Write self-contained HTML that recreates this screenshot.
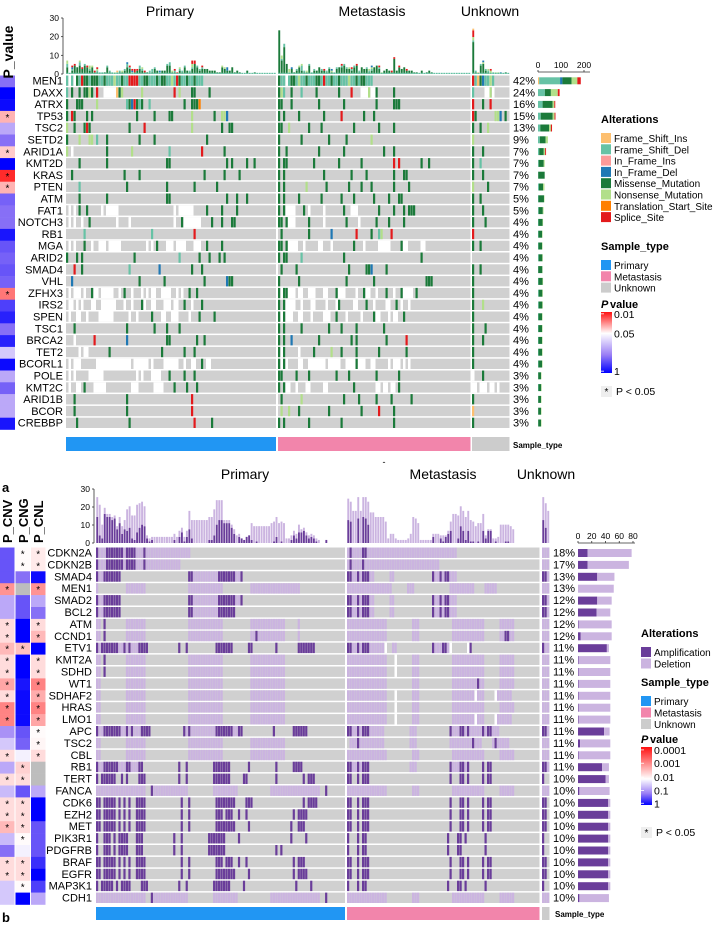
<!DOCTYPE html>
<html><head><meta charset="utf-8"><title>Oncoplots</title>
<style>
html,body{margin:0;padding:0;background:#fff;}
svg{display:block;font-family:"Liberation Sans",Arial,sans-serif;}
</style></head>
<body>
<svg id="fig" width="713" height="927" viewBox="0 0 713 927" xmlns="http://www.w3.org/2000/svg">
<defs>
<linearGradient id="gTop" x1="0" y1="0" x2="0" y2="1">
<stop offset="0" stop-color="#ff1010"/><stop offset="0.35" stop-color="#ffffff"/><stop offset="0.7" stop-color="#9b7ff5"/><stop offset="1" stop-color="#0000ff"/></linearGradient>
<linearGradient id="gBot" x1="0" y1="0" x2="0" y2="1">
<stop offset="0" stop-color="#ff1010"/><stop offset="0.55" stop-color="#ffffff"/><stop offset="0.8" stop-color="#9b7ff5"/><stop offset="1" stop-color="#0000ff"/></linearGradient>
</defs>
<g id="top"></g>
<g id="bot"></g>
<g id="static">
<text x="170" y="16" font-size="14" text-anchor="middle">Primary</text>
<text x="372" y="16" font-size="14" text-anchor="middle">Metastasis</text>
<text x="490" y="16" font-size="14" text-anchor="middle">Unknown</text>
<text transform="translate(13,52) rotate(-90)" font-size="14" font-weight="bold" text-anchor="middle">P_value</text>
<text x="384" y="465" font-size="9" text-anchor="middle">-</text>
<text x="2" y="492" font-size="13" font-weight="bold">a</text>
<text x="2" y="922" font-size="13" font-weight="bold">b</text>
<text x="245" y="479" font-size="14" text-anchor="middle">Primary</text>
<text x="443" y="479" font-size="14" text-anchor="middle">Metastasis</text>
<text x="546" y="479" font-size="14" text-anchor="middle">Unknown</text>
<text transform="translate(12,543) rotate(-90)" font-size="13" font-weight="bold">P_CNV</text>
<text transform="translate(28,543) rotate(-90)" font-size="13" font-weight="bold">P_CNG</text>
<text transform="translate(43,543) rotate(-90)" font-size="13" font-weight="bold">P_CNL</text>
</g>
</svg>
<script>
const NS="http://www.w3.org/2000/svg";
/* ---------- panel a data ---------- */
const topGenes=["MEN1","DAXX","ATRX","TP53","TSC2","SETD2","ARID1A","KMT2D","KRAS","PTEN","ATM","FAT1","NOTCH3","RB1","MGA","ARID2","SMAD4","VHL","ZFHX3","IRS2","SPEN","TSC1","BRCA2","TET2","BCORL1","POLE","KMT2C","ARID1B","BCOR","CREBBP"];
const topPct=["42%","24%","16%","15%","13%","9%","7%","7%","7%","7%","5%","5%","4%","4%","4%","4%","4%","4%","4%","4%","4%","4%","4%","4%","4%","3%","3%","3%","3%","3%"];
const topPval=[0.3,1,0.9,0.03,0.15,0.3,0.035,1,0.012,0.03,0.35,0.3,0.3,0.8,0.4,0.35,0.4,0.35,0.02,0.5,0.7,0.3,0.7,0.1,0.9,0.15,0.35,0.15,0.15,0.8];
const topRowsPrimary=[
"D1_1D1_1M1D1S1M2D1M3D2M1D3N1D2M1D2S4D2M2D3M1D1M2D2N1D1S1M1D2M1D2M1D3",
"D1.1M1.2M1.1M2N1M1.1S1.2_5I1M1N1.7N1.12S1.1N1.4M2.5M1",
"M1.3M3.5N1.11D1M1d1S1M1D1M1.2D1.13M1.2M3T1",
"M1.1S1M1.4M1.1M1.17M1.6M1.5M2.7N1.8M1.2N2d1",
"N1.2M1.3M1S1M1.15M1.5S1.18N1.11M1.2M2",
"M1.4N1.3N2.1D1.3M1.12M1.5M1.20M1",
"N1.1_1.13M1.9N1.14D1.12S1.8M1",
".5M1.10M1.23M2.22M1.1M1.5M1.2M1",
".2M1.20M1.5M1.25M1.7M1.5M1",
".5D1.18M1.15M1.10M1.8M1",
".5M1.10M1.23M2.22M1.3M1.3M1",
"._1.1_1.1M1.2M1.5_1.1_5.22_1.1_1_5.5M1.5M1.5M1",
"._1.1_1.2_1.2M1.10_1.4_1.17_1.2M1_1_6.4M1.3M1.3M2",
".7D1.26D1.16S1",
"._1.1_1.3M1.2_1.2_3.1_5.10_1.1_1.1M1.3_3.1_4.3_3.2M1.5M1",
"M1.3M1.1M1.20M1.17D1.7M1.3M1.3M1.1M1",
".3S1.2M1.18D1.11d1.12M1.3M1",
".2d1.26M1.9M1.15M1.8d1M2",
"._1.1_1_2.1_1.2M1_2.1_1_4.2_1.1M1.2_1.3_1.1_1.1_2.2_3_1.2_1.1_1.2M1.2M1",
"._2.1_1.1_1.3_2.2_1_5.3_1.2_1.3M1_1.2_2.3_3.1_2.2M1.2_1.3M1.2",
"._1.2_2.2_1.4_6.6_1.2_1.5M1.3_2.2_3.4_1.3M1.5M1",
".3M1.20M1.10M1.4M1.4M1",
".3_1.7S1.12d1.15M1M1.10M1.2M1",
".5_1.1_2.8M1.20M1.8M1.3M1",
"._1.1_1_2.6_14.1_6.1_1.4_1_5.2_1.2_2.2M1.1_1_1.2",
"._1.1_1.5_6.13_1.1_1.3_4.3M1.5M1.3M1",
"._1.2_2.1M1.3_5.10_3.6_4.4M1.4M1.3M1",
".3M1.20M1.25S1.15",
".3M1.20M1.25S1",
".4M1.20M1.25S1.6M1"];
const topRowsMet=[
"M1D2_1D1M2D1N1D2M1D3M2D1S1D2M1D2M1D3N1D2M1D1M2D3",
"M1N1D1.2M1.3D1.5M1.8M1.4S1.3_3N1_2M1.6M1",
"M2.3M1.10M1.9M1.12M1.6M3",
"M1.1M1.5M1.9M1.6S1.8M1.3M1.4",
"M2.2N1.7M1.4M1.12M1.9M1.5M1",
"M1.8M1.10M1.6M1.9N1",
"M1.2M1.12M1.9M1.15M1.3M1",
"M1.1M2.10M1.9M1.8M1.12S1.1S1.8M1.2M1",
"M1.1M1.15M1.10M1.5M1.10M1.3M2",
"M1.1M1.8N1.7M1.8M1.4M1.3M1.8M1.5M1",
"M1.1M1.5M1.8M1.7M1.4M1.7M1.5M1.3M2",
"M1.1M1_4.3M1.1_1.5_1.7M1.2_3.8M1.5M1.3M1.1M3",
"M2.1M1_3.5M1.5_1.8M1.4_1.6M1.4M1.5M1",
".1M1.10M1.8d1.9S1.5M1.2D1N1.3S1",
"M2.1M1_4.2_1.5_2.3_1.8M1.3_1.5_3_2.4M1_2.5_2",
"M1.1M2.5D1.16M1.30M1",
".1M1.5M1.20M1.6M2d1.5M1",
"M1.7M1.18M1.10M1.20M1M2",
"M1_1M2_3.1_2.2_3.3_2.3M1_2_1.4_1.2M1_2.2_1.3M1.2_1.2M1_1_1_1_1.1M1",
"M1.1M1_4.2_1.3_2.4_1.3_1M1.5_2.3M1.2_1.4_1_1.2M1.1_1.2_1",
"M1_1M1_3.2_2.3_1.4_3.2M1.3_1.5_1.4M1_2.3_1.1_1_1.2M1",
"M1.1M1.6M1.10M1.4M1.5M1.10M1",
"M1.1M1.2d1.10M1.12M1.1M1.11M1.7S1",
"M1_1M1.5_1.5M1.6N1.3M1.5M1.8M1.10M1",
"M1_1M1_1.4_2.2_4_3.1_5.2_4M1_3.2_2.5_1.1_1_1_1.1_1.1_1",
"M1M1.5M1.4M1.10M1.4M1.10M1.8M1",
"M1.1M1_2.2_1.3_2.5_2.10M1.8_1_1.1_1_1.1_1_1.1M1",
".1M1.7N1.16M1.5M1.6M1.5M1.7M1",
".1N1.2N1.3M1.11M1.12M1.6S1.5M1",
"M1.1M1.9M1.12M1.20M1"];
const topRowsUnk=["S1D1I1M1d1D2N1D1","D1.4_2N1_1.1","S1.3M1.2S1","S1M1.7N2d1.1M1","M1.2M1.2N1","N1","M1.3M1","M1.2D1","M1.3M1","N1.5M1","M1.2M1","M1.3M1","M1.4M1","S1.2",
"M1.2M1",".4","M1.2M1","M1.3","M1.5","M1.3N1","M1.4","M1.4M1","M1.3M1","M1.5","M1.5","_1.3M1","_2._3.1_2.1_1","M1.3","I1.2","M1.2"];
const cntIns=[5,0,0,0,0,0,0,0,0,0,0,0,0,0,0,0,0,0,0,0,0,0,0,0,0,0,0,0,0,0];
const cntDel=[91,30,20,12,10,8,5,3,1,4,2,3,2,2,2,3,1,2,3,3,2,2,2,2,2,1,2,1,1,1];
const cntInDel=[10,0,0,0,0,0,0,0,0,0,0,0,0,0,0,0,0,0,0,0,0,0,0,0,0,0,0,0,0,0];
const cntMis=[40,26,43,52,38,25,20,22,28,18,24,18,18,16,16,16,18,18,16,16,16,16,16,16,16,12,12,12,12,12];
const cntNon=[25,30,8,8,8,10,6,4,0,6,2,3,2,2,2,2,1,2,2,2,2,2,2,2,2,2,2,2,2,2];
const cntSplice=[15,8,4,4,5,0,4,0,0,0,0,0,0,0,0,0,0,0,0,0,0,0,0,0,0,0,0,0,0,0];
const topAxisTicks=[0,10,20,30];
const sideAxisTicks=[0,100,200];
/* ---------- panel b data ---------- */
const botGenes=["CDKN2A","CDKN2B","SMAD4","MEN1","SMAD2","BCL2","ATM","CCND1","ETV1","KMT2A","SDHD","WT1","SDHAF2","HRAS","LMO1","APC","TSC2","CBL","RB1","TERT","FANCA","CDK6","EZH2","MET","PIK3R1","PDGFRB","BRAF","EGFR","MAP3K1","CDH1"];
const botPct=["18%","17%","13%","13%","12%","12%","12%","12%","11%","11%","11%","11%","11%","11%","11%","11%","11%","11%","11%","10%","10%","10%","10%","10%","10%","10%","10%","10%","10%","10%"];
const pCNV=[0.4,0.4,0.4,0.003,0.15,0.15,0.02,0.02,0.008,0.02,0.02,0.005,0.02,0.002,0.002,0.2,0.1,0.02,0.15,0.02,0.12,0.02,0.02,0.008,0.12,0.3,0.02,0.02,0.1,0.1];
const pCNG=[0.045,0.045,0.3,null,0.4,0.4,1,1,0.01,1,1,0.8,0.9,0.9,0.9,0.4,0.35,0.06,0.015,0.02,0.4,0.02,0.02,0.02,0.045,0.06,0.02,0.02,0.045,1];
const pCNL=[0.03,0.03,0.9,0.003,0.15,0.3,0.02,0.008,1,0.02,0.02,0.002,0.006,0.002,0.005,0.045,0.04,0.02,null,null,0.15,1,1,0.4,0.4,0.4,0.6,1,0.5,0.15];
const botRowsPrimary=[
"A1L3A7L1A4L3A1L18","A1L3A7L1A4L3A1L14","A1L2A7.27A2L10A7L2A1.41","L1.11L8.17L14.11L20","A1L2A7.27A2L10A7L2A1","A1L2A7.27A2L10A7",
"L2.1A1.8L8.17L14.11L14.5L1","L2.1A1.8L8.17L14.11L2A1L11.5L1","A1L1A7L2A1L1A1L3A4.12A1.2A1.11A7.6A2.9A1.8A7",
"L2.1A1.8L8.17L14.11L14","L2.1A1.8L8.17L14.11L14","L2.10L8.17L14.11L14","L2.10L8.17L14.11L14","L2.10L8.17L14.11L14","L2.10L8.17L14.11L14",
"A1L2A7L2A1L1A1L3A4.13A1L1A1L10A7L2A2.12A1.7A6","L2.10L8.17L14.11L14","L2.10L8.17L14.11L14",
"A1L2A6L3A2L3A2.14A1.2A1.10A7.7A1.10A1.6A4","A1.1A6.2A1.1A1.4A3.13A1.2A1.10A7.5A2.11A1.10A1.1A3","L20.2A1L14.10L10.13L20.2A1",
"A2.1A5.1A1.1A1.1A1.2A4.14A1.2A1.10A8.4A3.20A1.1A4","A2.1A5.1A1.1A1.1A1.2A4.14A1.2A1.10A3.1A3.2A1.2A1.18A1.1A4",
"A2.1A5.1A1.1A1.1A1.2A4.14A1.2A1.10A8.5A1.16A1.2A3","A1.2A3.1A1.1A4.3A3.12A1.2A1.10A7.5A1.20A1.5A1",
"A1.2A3.1A1.1A4.3A3.12A1.2A1.10A7.20A1.1A1","A2.1A5.1A1.1A1.1A1.2A4.14A1.2A1.10A3.1A3.2A1.2A1.18A1.1A3",
"A2.1A5.1A1.1A1.1A1.2A4.14A1.2A1.10A8.5A1.17A1.1A4","A1.1A5.1A1.1A4.4A3.12A1.2A1.10A7.5A1.20A1.5A1","L20.2A1L14.10L10.13L20.2A1"];
const botRowsMet=[
"L1A1L4A2L36","L1A1L4A1L30","A2L2A1L1A3L2.6L2.15A1L2A1L1A2L3","L18.6L3.14L10.4L5","A2L2A1L1A3L2.6L2.15A1L2A1L1A2L3","A2L2A1L1A3L2.6L2.15A1L2A1L1A2L3",
"L16.10L3.13L13.6L6","L16.10L3.13L13.6L2A2L2","A2L2A1L1A3L6_1.2L2.14A1L3A2L1_1.6_1A1",
"L16.3_1.6L3.13L13.6L6","L16.3_1.6L3.13L13.6L6","L16.10L3.13L10A1L2.6L6","L16.3_1.6L3.13L9_1L3.4_1L6","L16.3_1.6L3.13L13.6L6","L16.3_1.6L3.13L9_1L3.4_1L6",
"A2L2A1L1A3L6.10L3.13A1L3A2L1A1L5A1L1A2L3",".1L3A1L10.10L3.13L9A1L3.4L1A1L5","L16.10L3.13L13.6L6",
"A2L2A1L1A3.16L3.13A1L3A2L1A1.5A1.1A2","A2.2A1.1A3.32A1.3A2.1A1.5A1.1A2","L16.10L3.13L13.6L6",
"A2.2A1.1A3.32A1.3A2.1A1.5A1.1A2","A2.2A1.1A3.32A1.3A2.1A1.5A1.1A2","A2.2A1.1A3.32A1.3A2.1A1.5A1.1A2",
"A1.3A1.1A2.32A1.3A2.1A1.7A1","A1.3A1.1A2.32A1.3A2.9A1","A2.2A1.1A3.32A1.3A2.1A1.5A1.1A2",
"A2.2A1.1A3.32A1.3A2.1A1.5A1.1A2","A1.3A1.1A2.32A1.3A2.1A1.7A1","L16.10L3.13L13.6L6"];
const botRowsUnk=["L3","L3","A2L1","L3","A2L1","A2L1","L3","L3","A1L2","L3","L3","L3","L3","L3","L3","A2L1","L3","L3","A2L1","A1.2","L3","A2.1","A2.1","A2.1","A1.2","A1.2","A2.1","A2.1","A1.2","L3"];
const ampCount=[14,14,28,0,28,27,1,4,42,1,1,1,1,1,1,38,3,1,35,40,2,44,44,44,44,44,44,44,44,2];
const delCount=[64,60,25,52,21,20,48,45,3,46,46,46,46,46,46,8,44,46,10,5,44,3,3,3,3,3,3,3,3,43];
const botAxisTicks=[0,10,20,30];
const botSideTicks=[0,20,40,60,80];

/* ---------- helpers ---------- */
const MUTCOL={D:"#66c2a5",M:"#1b7a3a",N:"#b2df8a",S:"#e31a1c",I:"#fdbf6f",i:"#fb9a99",d:"#1f78b4",T:"#ff7f00",A:"#6a3d9a",L:"#cbb4e0"};
const GRAY="#d0d0d0";
function mk(tag,attrs,parent){const e=document.createElementNS(NS,tag);for(const k in attrs)e.setAttribute(k,attrs[k]);parent.appendChild(e);return e;}
function parseRow(str,n){const out=[];str.replace(/([A-Za-z._])(\d*)/g,(m,c,k)=>{k=k===''?1:+k;for(let i=0;i<k;i++)out.push(c);return m;});while(out.length<n)out.push('.');return out.slice(0,n);}
function hex(c){return [parseInt(c.slice(1,3),16),parseInt(c.slice(3,5),16),parseInt(c.slice(5,7),16)];}
function mix(a,b,t){const A=hex(a),B=hex(b);return "rgb("+A.map((v,i)=>Math.round(v+(B[i]-v)*t)).join(",")+")";}
function pColor(p,lo){ if(p===null)return "#bdbdbd";
  const t=Math.log10(p), w=Math.log10(0.05);
  if(t<=lo)return "#ff1010";
  if(t<w)return mix("#ff1010","#ffffff",(t-lo)/(w-lo));
  const m=-0.6;
  if(t<m)return mix("#ffffff","#9b7ff5",(t-w)/(m-w));
  return mix("#9b7ff5","#0000ff",Math.min(1,(t-m)/(0-m)));}
function txt(parent,x,y,s,size,anchor,extra){const e=mk("text",Object.assign({x:x,y:y,"font-size":size,"text-anchor":anchor||"start"},extra||{}),parent);e.textContent=s;return e;}

/* ---------- panel a ---------- */
const T=document.getElementById("top");
const tRow0=75.5, tPitch=11.8, tCellH=10.3, colW=2.5;
const tSeg=[{x0:66,n:84,rows:topRowsPrimary},{x0:278,n:77,rows:topRowsMet},{x0:472,n:15,rows:topRowsUnk}];
const tBase=74, tScale=56/30;
function tRowY(i){return tRow0+i*tPitch;}
topGenes.forEach((g,i)=>{
  const y=tRowY(i);
  const pc=mk("rect",{x:0,y:y,width:15,height:tPitch+0.3,fill:pColor(topPval[i],-2)},T);
  
  
  if(topPval[i]<0.05){const s=txt(T,7.5,y+10,"*",10,"middle");
    
    }
  const gl=txt(T,63,y+9,g,11,"end");
  
  
  const pl=txt(T,513,y+9,topPct[i],11,"start");
  
  
  tSeg.forEach(seg=>{
    const cells=parseRow(seg.rows[i],seg.n);
    const bg=mk("rect",{x:seg.x0,y:y,width:seg.n*colW,height:tCellH,fill:GRAY},T);
    
    
    cells.forEach((c,k)=>{ if(c==='.')return;
      const r=mk("rect",{x:seg.x0+k*colW,y:y,width:c==='_'?colW:colW-0.3,height:tCellH,fill:c==='_'?"#ffffff":MUTCOL[c]},T);
      
      });
  });
  const segs=[[cntIns[i],"I"],[cntDel[i],"D"],[cntInDel[i],"d"],[cntMis[i],"M"],[cntNon[i],"N"],[cntSplice[i],"S"]];
  let x=538;
  segs.forEach(([v,c])=>{ if(!v)return; const w=v*0.23;
    const b=mk("rect",{x:x,y:y+1.8,width:w,height:7,fill:MUTCOL[c]},T);
    
    
    x+=w;});
});
tSeg.forEach(seg=>{
  for(let k=0;k<seg.n;k++){
    const counts={};
    seg.rows.forEach(r=>{const c=parseRow(r,seg.n)[k]; if(c!=='.'&&c!=='_')counts[c]=(counts[c]||0)+1;});
    let yb=tBase;
    ["M","D","N","d","S","I"].forEach(c=>{ if(!counts[c])return; const h=counts[c]*tScale*0.9;
      const b=mk("rect",{x:seg.x0+k*colW+0.3,y:yb-h,width:colW-0.6,height:h,fill:MUTCOL[c]},T);
      
      
      yb-=h;});
    const base=mk("rect",{x:seg.x0+k*colW+0.3,y:tBase-1.2,width:colW-0.6,height:1.2,fill:"#66c2a5"},T);
    
    
  }
});
const tAx=mk("line",{x1:63,y1:tBase,x2:63,y2:tBase-30*tScale,stroke:"#333","stroke-width":0.8},T);


topAxisTicks.forEach(v=>{const y=tBase-v*tScale;
  const tk=mk("line",{x1:61,y1:y,x2:63,y2:y,stroke:"#333","stroke-width":0.8},T);
  
  
  const tl=txt(T,59,y+3,String(v),8.5,"end");
  
  });
const sAx=mk("line",{x1:538,y1:72,x2:590,y2:72,stroke:"#333","stroke-width":0.8},T);


sideAxisTicks.forEach(v=>{const x=538+v*0.23;
  const tk=mk("line",{x1:x,y1:70,x2:x,y2:72,stroke:"#333","stroke-width":0.8},T);
  
  
  const tl=txt(T,x,68,String(v),8.5,"middle");
  
  });
[[66,84,"#2196f3"],[278,77,"#f285ab"],[472,15,"#cccccc"]].forEach(([x0,n,c])=>{
  const r=mk("rect",{x:x0,y:437,width:n*colW,height:14,fill:c},T);
  
  });
const stl=txt(T,513,448,"Sample_type",8,"start",{"font-weight":"bold"});


function legend(parent,x,y,title,items,pitch){
  const tt=txt(parent,x,y,title,11,"start",{"font-weight":"bold"});
  
  
  items.forEach(([lab,col],j)=>{const yy=y+10+j*pitch;
    const sw=mk("rect",{x:x,y:yy,width:10,height:10,fill:col},parent);
    
    
    const tl=txt(parent,x+13,yy+9,lab,10,"start");
    
    });}
legend(T,601,123,"Alterations",[["Frame_Shift_Ins","#fdbf6f"],["Frame_Shift_Del","#66c2a5"],["In_Frame_Ins","#fb9a99"],["In_Frame_Del","#1f78b4"],["Missense_Mutation","#1b7a3a"],["Nonsense_Mutation","#b2df8a"],["Translation_Start_Site","#ff7f00"],["Splice_Site","#e31a1c"]],11.3);
legend(T,601,250,"Sample_type",[["Primary","#2196f3"],["Metastasis","#f285ab"],["Unknown","#cccccc"]],11.3);
function pLegend(parent,x,y,grad,labels,h){
  const t1=txt(parent,x,y,"P",11,"start",{"font-weight":"bold","font-style":"italic"});
  
  
  const t2=txt(parent,x+9,y,"value",11,"start",{"font-weight":"bold"});
  
  
  const gr=mk("rect",{x:x,y:y+4,width:11,height:h,fill:"url(#"+grad+")"},parent);
  
  
  labels.forEach(([s,f])=>{const yy=y+4+f*h;
    const tk=mk("line",{x1:x,y1:yy,x2:x+3,y2:yy,stroke:"#fff","stroke-width":0.8},parent);
    
    
    const l=txt(parent,x+13,yy+4,s,10.5,"start");
    
    });}
pLegend(T,601,308,"gTop",[["0.01",0.03],["0.05",0.35],["1",0.97]],61);
function starLegend(parent,x,y){
  const r=mk("rect",{x:x,y:y-9,width:11,height:11,fill:"#eeeeee"},parent);
  
  
  const s=txt(parent,x+5.5,y,"*",10,"middle");
  
  
  const l=txt(parent,x+15,y,"P < 0.05",10.5,"start");
  
  }
starLegend(T,601,395);

/* ---------- panel b ---------- */
const B=document.getElementById("bot");
const bRow0=547.5, bPitch=11.9, bCellH=10.4;
const bSeg=[{x0:96,n:100,w:2.49,rows:botRowsPrimary},{x0:347,n:77,w:2.5,rows:botRowsMet},{x0:542,n:3,w:2.5,rows:botRowsUnk}];
const bBase=543, bScale=1.8;
botGenes.forEach((g,i)=>{
  const y=bRow0+i*bPitch;
  [[pCNV,0],[pCNG,15.5],[pCNL,31]].forEach(([arr,dx])=>{
    const pc=mk("rect",{x:dx,y:y,width:14.5,height:bPitch+0.3,fill:pColor(arr[i],-4)},B);
    
    
    if(arr[i]!==null&&arr[i]<0.05){const s=txt(B,dx+7.2,y+10,"*",10,"middle");
      
      }
  });
  const gl=txt(B,92,y+9,g,11,"end");
  
  
  const pl=txt(B,553,y+9,botPct[i],11,"start");
  
  
  bSeg.forEach(seg=>{
    const cells=parseRow(seg.rows[i],seg.n);
    const bg=mk("rect",{x:seg.x0,y:y,width:seg.n*seg.w,height:bCellH,fill:GRAY},B);
    
    
    cells.forEach((c,k)=>{ if(c==='.')return;
      const r=mk("rect",{x:seg.x0+k*seg.w,y:y,width:c==='_'?seg.w:seg.w-0.3,height:bCellH,fill:c==='_'?"#ffffff":MUTCOL[c]},B);
      
      });
  });
  const wa=ampCount[i]*55/80, wd=delCount[i]*55/80;
  const ba=mk("rect",{x:578,y:y+1.5,width:wa,height:8,fill:MUTCOL.A},B);
  
  
  const bd=mk("rect",{x:578+wa,y:y+1.5,width:wd,height:8,fill:MUTCOL.L},B);
  
  
});
bSeg.forEach(seg=>{
  for(let k=0;k<seg.n;k++){
    let a=0,l=0;
    seg.rows.forEach(r=>{const c=parseRow(r,seg.n)[k]; if(c==='A')a++; else if(c==='L')l++;});
    const ha=a*bScale*0.85, hl=l*bScale*0.85;
    const b1=mk("rect",{x:seg.x0+k*seg.w+0.3,y:bBase-ha,width:seg.w-0.6,height:ha,fill:MUTCOL.A},B);
    
    
    const b2=mk("rect",{x:seg.x0+k*seg.w+0.3,y:bBase-ha-hl,width:seg.w-0.6,height:hl,fill:MUTCOL.L},B);
    
    
  }
});
const bAx=mk("line",{x1:94,y1:bBase,x2:94,y2:bBase-30*bScale,stroke:"#333","stroke-width":0.8},B);


botAxisTicks.forEach(v=>{const y=bBase-v*bScale;
  const tk=mk("line",{x1:92,y1:y,x2:94,y2:y,stroke:"#333","stroke-width":0.8},B);
  
  
  const tl=txt(B,90,y+3,String(v),8.5,"end");
  
  });
const bsAx=mk("line",{x1:578,y1:543,x2:635,y2:543,stroke:"#333","stroke-width":0.8},B);


botSideTicks.forEach(v=>{const x=578+v*55/80;
  const tk=mk("line",{x1:x,y1:541,x2:x,y2:543,stroke:"#333","stroke-width":0.8},B);
  
  
  const tl=txt(B,x,539,String(v),8.5,"middle");
  
  });
[[96,249,"#2196f3"],[347,192.5,"#f285ab"],[542,7.5,"#cccccc"]].forEach(([x0,w,c])=>{
  const r=mk("rect",{x:x0,y:907,width:w,height:13,fill:c},B);
  
  });
const bst=txt(B,555,917,"Sample_type",8,"start",{"font-weight":"bold"});


legend(B,641,637,"Alterations",[["Amplification","#6a3d9a"],["Deletion","#cbb4e0"]],11.5);
legend(B,641,686,"Sample_type",[["Primary","#2196f3"],["Metastasis","#f285ab"],["Unknown","#cccccc"]],11.5);
pLegend(B,641,743,"gBot",[["0.0001",0.05],["0.001",0.28],["0.01",0.52],["0.1",0.75],["1",0.97]],58);
starLegend(B,641,836);
</script>
</body></html>
